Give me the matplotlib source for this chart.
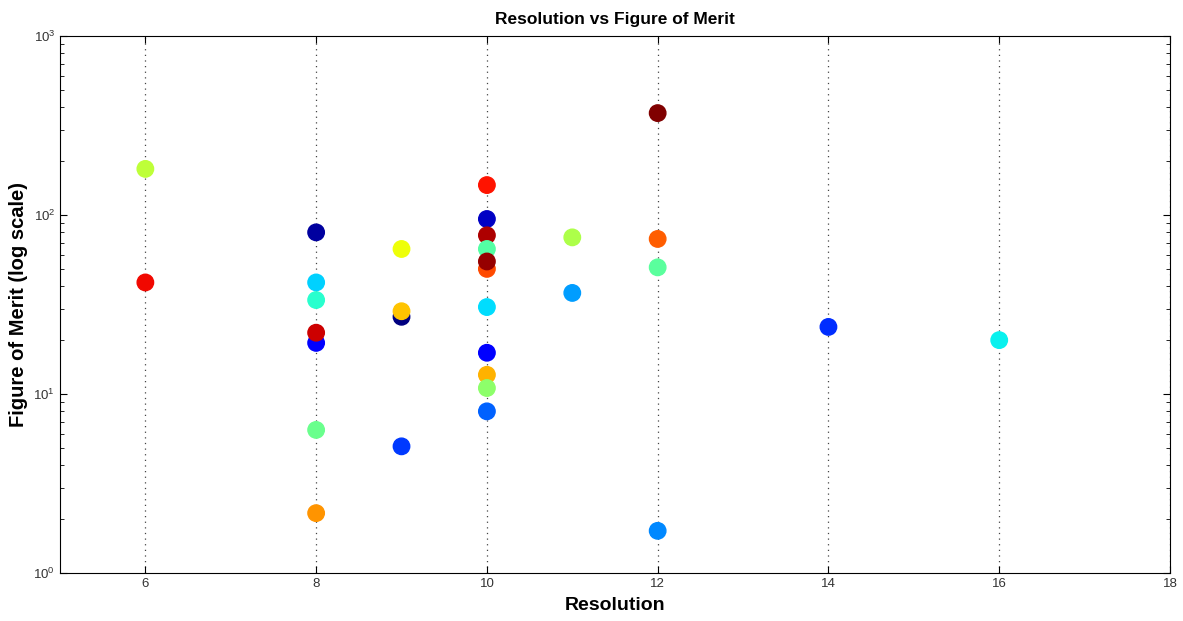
import numpy as np
import matplotlib
matplotlib.use("Agg")
from matplotlib import pyplot as plt

plt.rcParams['font.family'] = ['Liberation Sans', 'DejaVu Sans']

# resolution (bits), figure of merit, colour value on the jet map
resolution = [6, 6,
              8, 8, 8, 8, 8, 8, 8,
              9, 9, 9, 9,
              10, 10, 10, 10, 10, 10, 10, 10, 10, 10, 10,
              11, 11,
              12, 12, 12, 12,
              14, 16]
merit = [181, 42,
         80, 42, 33.5, 19.3, 22, 6.3, 2.16,
         64.6, 27, 29, 5.1,
         147, 95, 77, 64.6, 50, 55, 30.6, 17, 12.8, 10.8, 8.0,
         75, 36.7,
         371, 73.5, 51, 1.72,
         23.7, 20]
colour = [0.58, 0.9,
          0.03, 0.33, 0.40, 0.12, 0.93, 0.48, 0.75,
          0.64, 0.0, 0.70, 0.18,
          0.89, 0.06, 0.96, 0.45, 0.83, 0.98, 0.34, 0.12, 0.72, 0.52, 0.22,
          0.56, 0.28,
          1.0, 0.81, 0.46, 0.26,
          0.17, 0.36]

fig = plt.figure(figsize=(11.83, 6.21), dpi=100)
ax = fig.add_axes([0.0507, 0.0773, 0.9383, 0.8647])

cols = plt.cm.jet(np.array(colour))
ax.scatter(resolution, merit, s=140, c=cols, edgecolors=cols, zorder=3)

ax.set_yscale('log')
ax.set_xlim(5, 18)
ax.set_ylim(1, 1000)
ax.set_xticks([6, 8, 10, 12, 14, 16, 18])
ax.xaxis.grid(True, linestyle=(0, (1, 3.5)), color='#444444', linewidth=0.9)
ax.tick_params(which='both', direction='in', top=True, right=True, labelsize=9.5, labelcolor='#333333')
ax.tick_params(which='major', length=5)
ax.tick_params(which='minor', length=3)

ax.set_title('Resolution vs Figure of Merit', fontsize=12.5, fontweight='bold', pad=9)
ax.set_xlabel('Resolution', fontsize=14, fontweight='bold', labelpad=5)
ax.set_ylabel('Figure of Merit (log scale)', fontsize=14.5, fontweight='bold', labelpad=4)

fig.savefig('out.png', dpi=100)
